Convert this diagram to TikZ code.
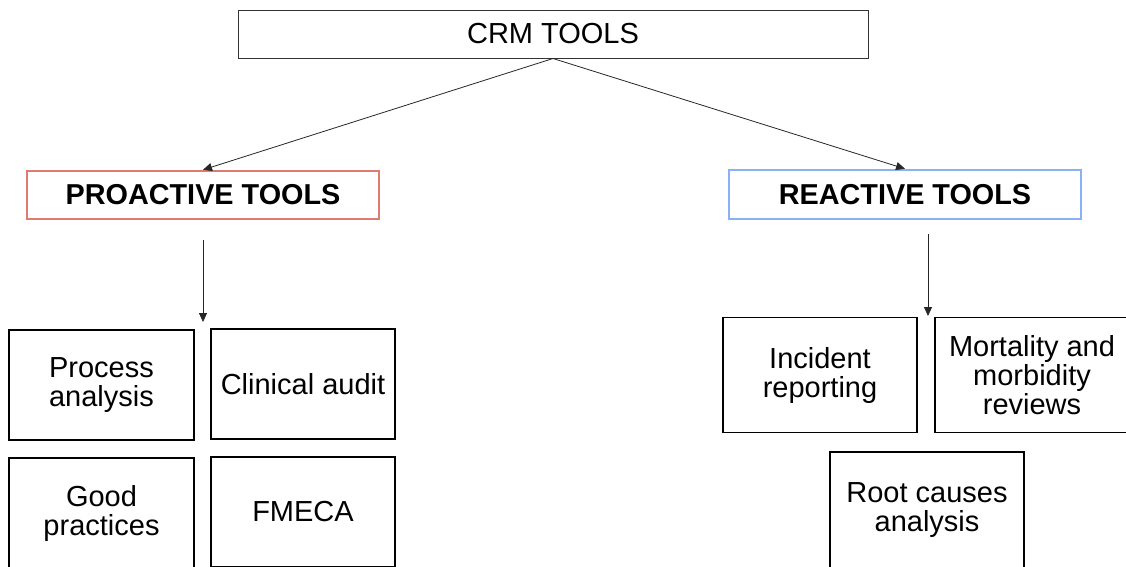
\documentclass[tikz,border=0pt]{standalone}
\usepackage{fontspec}
\setmainfont{Liberation Sans}
\usetikzlibrary{arrows.meta}
\definecolor{prored}{HTML}{E07A6E}
\definecolor{reablue}{HTML}{8AB0F5}
\tikzset{
  every node/.style={font=\fontsize{29}{29}\selectfont, align=center, inner sep=0pt},
  toolbox/.style={draw=black, line width=1.6pt, fill=white},
  headbox/.style={line width=2.4pt, fill=white, font=\fontsize{28.8}{29}\selectfont\bfseries},
  link/.style={draw=black!85, line width=0.8pt, -{Triangle[length=9pt,width=8pt]}},
}
\begin{document}
\begin{tikzpicture}[x=1pt,y=-1pt]
\useasboundingbox (0,0) rectangle (1126,566);

% top-level category
\node[draw=black!80, line width=1pt, minimum width=630, minimum height=48] (crm) at (553,34) {CRM TOOLS};

% the two families of tools
\node[headbox, draw=prored, minimum width=352, minimum height=48] (pro) at (203,195) {PROACTIVE TOOLS};
\node[headbox, draw=reablue, minimum width=352, minimum height=49] (rea) at (905,194.5) {REACTIVE TOOLS};

% proactive tools
\node[toolbox, minimum width=185, minimum height=110] (pa) at (101.5,385) {Process\\analysis};
\node[toolbox, minimum width=184, minimum height=110] (ca) at (303,384) {Clinical audit};
\node[toolbox, minimum width=185, minimum height=110] (gp) at (101.5,513) {Good\\practices};
\node[toolbox, minimum width=184, minimum height=110] (fm) at (303,512) {FMECA};

% reactive tools
\node[toolbox, minimum width=194, minimum height=115] (ir) at (820,375) {Incident\\reporting};
\node[toolbox, minimum width=194, minimum height=115] (mm) at (1032,375) {Mortality and\\morbidity\\reviews};
\node[toolbox, minimum width=194, minimum height=116] (rc) at (927,510) {Root causes\\analysis};

% connectors
\draw[link] (crm.south) -- (pro.north);
\draw[link] (crm.south) -- (rea.north);

\coordinate (pa0) at (203,240);
\coordinate (pa1) at (203,322);
\coordinate (ra0) at (928,234);
\coordinate (ra1) at (928,316);
\draw[link] (pa0) -- (pa1);
\draw[link] (ra0) -- (ra1);
\end{tikzpicture}
\end{document}
